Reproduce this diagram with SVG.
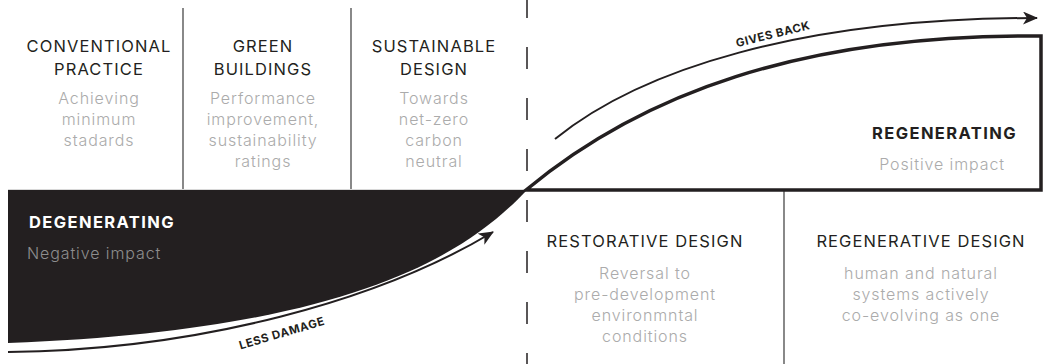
<svg xmlns="http://www.w3.org/2000/svg" width="1049" height="364" viewBox="0 0 1049 364">
  <style>
    .head { font-family: "Inter", "Liberation Sans", sans-serif; font-size: 16.5px; letter-spacing: 1.1px; fill: #231f20; text-anchor: middle; }
    .sub { font-family: "Inter", "Liberation Sans", sans-serif; font-weight: 300; font-size: 16px; letter-spacing: 0.9px; fill: #ababab; text-anchor: middle; }
    .bold { font-family: "Inter", "Liberation Sans", sans-serif; font-weight: 700; font-size: 16.5px; letter-spacing: 1.4px; }
    .tag { font-family: "Inter", "Liberation Sans", sans-serif; font-weight: 700; font-size: 11.5px; letter-spacing: 0.6px; fill: #231f20; text-anchor: middle; }
    .rule { stroke: #3a3a3a; stroke-width: 1.2; fill: none; }
    .trend { fill: none; stroke: #231f20; stroke-width: 2; marker-end: url(#head); }
  </style>
  <defs>
    <marker id="head" markerWidth="15" markerHeight="13" refX="14" refY="6.5" orient="auto" markerUnits="userSpaceOnUse" viewBox="0 0 15 13">
      <path d="M0,0 L15,6.5 L0,13 L4,6.5 Z" fill="#231f20"/>
    </marker>
  </defs>
  <rect width="1049" height="364" fill="#ffffff"/>

  <!-- column dividers -->
  <g id="dividers">
    <line class="rule" x1="183" y1="8" x2="183" y2="190"/>
    <line class="rule" x1="351" y1="8" x2="351" y2="190"/>
    <line class="rule" x1="784" y1="190" x2="784" y2="364"/>
    <line x1="8" y1="189.5" x2="526" y2="189.5" stroke="#d8d8d8" stroke-width="1"/>
    <line x1="527" y1="-4" x2="527" y2="364" stroke="#231f20" stroke-width="1.5" stroke-dasharray="22 29"/>
  </g>

  <!-- degenerating area -->
  <g id="degenerating">
    <path d="M8,190 L527,190 C470,250 360,330 8,343 Z" fill="#231f20"/>
    <text class="bold" x="29" y="228" fill="#ffffff">DEGENERATING</text>
    <text class="sub" x="27" y="259" style="text-anchor: start; fill: #8e8e8e">Negative impact</text>
  </g>

  <!-- regenerating area -->
  <g id="regenerating">
    <path d="M526,190 L1041,190 L1041,36 C800,34 640,95 526,190 Z" fill="#ffffff" stroke="#231f20" stroke-width="3.5" stroke-linejoin="miter"/>
    <text class="bold" x="1017" y="139" fill="#231f20" text-anchor="end">REGENERATING</text>
    <text class="sub" x="1005" y="170" style="text-anchor: end">Positive impact</text>
  </g>

  <!-- trend arrows -->
  <g id="connectors">
    <path class="trend" d="M8,352 C200,350 380,300 493,232"/>
    <path class="trend" d="M555,139 C640,70 800,18 1037,18"/>
    <text class="tag" transform="translate(283,337) rotate(-16.5)">LESS DAMAGE</text>
    <text class="tag" transform="translate(774,38) rotate(-14)">GIVES BACK</text>
  </g>

  <g id="conventional">
    <text class="head" x="99" y="52">CONVENTIONAL</text>
    <text class="head" x="99" y="75">PRACTICE</text>
    <text class="sub" x="99" y="104">Achieving</text>
    <text class="sub" x="99" y="125">minimum</text>
    <text class="sub" x="99" y="146">stadards</text>
  </g>

  <g id="green">
    <text class="head" x="263" y="52">GREEN</text>
    <text class="head" x="263" y="75">BUILDINGS</text>
    <text class="sub" x="263" y="104">Performance</text>
    <text class="sub" x="263" y="125">improvement,</text>
    <text class="sub" x="263" y="146">sustainability</text>
    <text class="sub" x="263" y="167">ratings</text>
  </g>

  <g id="sustainable">
    <text class="head" x="434" y="52">SUSTAINABLE</text>
    <text class="head" x="434" y="75">DESIGN</text>
    <text class="sub" x="434" y="104">Towards</text>
    <text class="sub" x="434" y="125">net-zero</text>
    <text class="sub" x="434" y="146">carbon</text>
    <text class="sub" x="434" y="167">neutral</text>
  </g>

  <g id="restorative">
    <text class="head" x="645" y="247">RESTORATIVE DESIGN</text>
    <text class="sub" x="645" y="279">Reversal to</text>
    <text class="sub" x="645" y="300">pre-development</text>
    <text class="sub" x="645" y="321">environmntal</text>
    <text class="sub" x="645" y="342">conditions</text>
  </g>

  <g id="regenerative">
    <text class="head" x="921" y="247">REGENERATIVE DESIGN</text>
    <text class="sub" x="921" y="279">human and natural</text>
    <text class="sub" x="921" y="300">systems actively</text>
    <text class="sub" x="921" y="321">co-evolving as one</text>
  </g>
</svg>
